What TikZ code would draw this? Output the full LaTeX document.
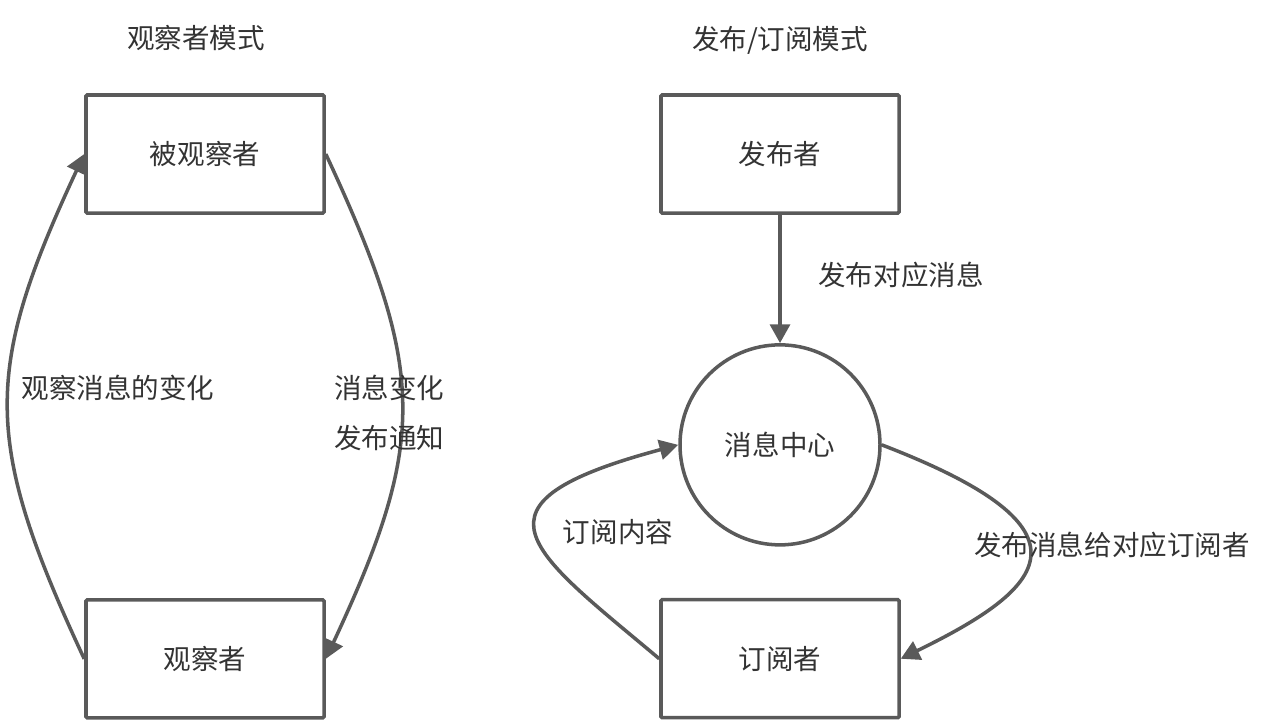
\documentclass[tikz,border=0pt]{standalone}
\usepackage{fontspec}
\newfontfamily\cjk{Noto Sans CJK SC}
\usepackage{tikz}
\usetikzlibrary{arrows.meta, positioning}
\definecolor{linegray}{HTML}{5A5A5A}
\definecolor{textgray}{HTML}{333333}

\begin{document}
\begin{tikzpicture}[
    x=0.03cm, y=0.03cm,
    every node/.style={font=\cjk\fontsize{23.5}{42}\selectfont, text=textgray},
    box/.style={rectangle, draw=linegray, line width=3pt, rounded corners=1pt, minimum width=7.14cm, minimum height=3.54cm},
    hubcircle/.style={circle, draw=linegray, line width=3pt, minimum size=6cm},
    arrow/.style={-{Triangle[length=16pt, width=17pt]}, draw=linegray, line width=3pt},
    title/.style={font=\cjk\fontsize{23.5}{28}\selectfont}
]
\useasboundingbox (0,0) rectangle (1266,-722);

% Observer pattern
\node[title] (obstitle) at (196,-38) {观察者模式};
\node[box] (subj) at (205,-154) {被观察者};
\node[box, below=11.5cm of subj] (obs) {观察者};

\draw[arrow] (obs.west) .. controls +(115:240) and +(245:240) .. (subj.west);
\draw[arrow] (subj.east) .. controls +(-65:240) and +(65:240) .. (obs.east);

\node (obslabel) at (118,-388) {观察消息的变化};
\node[anchor=west, align=left] (notelabel) at (330,-413) {消息变化\\发布通知};

% Publish/subscribe pattern
\node[title] (pstitle) at (780,-40) {发布/订阅模式};
\node[box] (pub) at (780,-154) {发布者};
\node[hubcircle, below=3.85cm of pub] (hub) {消息中心};
\node[box, below=1.54cm of hub] (sub) {订阅者};

\draw[arrow] (pub) -- (hub);
\node (publabel) at (901,-275) {发布对应消息};

\draw[arrow] (sub.west) .. controls +(140:171) and +(195:228) .. (hub.west);
\node (sublabel) at (618,-532) {订阅内容};

\draw[arrow] (hub.east) .. controls +(-21:238) and +(26:161) .. (sub.east);
\node (dispatchlabel) at (1112,-545) {发布消息给对应订阅者};

\end{tikzpicture}
\end{document}
